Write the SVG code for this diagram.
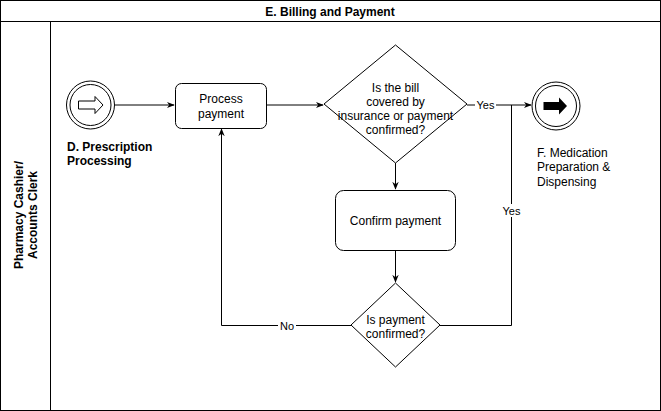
<svg xmlns="http://www.w3.org/2000/svg" width="661" height="411" viewBox="0 0 661 411">
<style>
.t{font-family:"Liberation Sans",Arial,sans-serif;font-size:12px;fill:#000}
.b{font-weight:bold}
.s{fill:#fff;stroke:#000;stroke-width:1}
.c{fill:none;stroke:#000;stroke-width:1}
.lbl{font-family:"Liberation Sans",Arial,sans-serif;font-size:11px;fill:#000}
</style>
<defs>
<marker id="ah" viewBox="0 0 10 10" refX="9" refY="5" markerWidth="8" markerHeight="8" markerUnits="userSpaceOnUse" orient="auto">
<path d="M0,1 L10,5 L0,9 L3,5 Z" fill="#000"/>
</marker>
</defs>
<rect x="0" y="0" width="660" height="410" fill="#fff"/>
<g id="pool">
<rect x="0.5" y="0.5" width="660" height="410" class="c"/>
<line x1="0.5" y1="21.5" x2="660.5" y2="21.5" class="c"/>
<line x1="50.5" y1="21.5" x2="50.5" y2="410.5" class="c"/>
<text class="t b" x="330" y="16" text-anchor="middle">E. Billing and Payment</text>
<text class="t b" transform="translate(26,215) rotate(-90)" text-anchor="middle"><tspan x="0" y="-3">Pharmacy Cashier/</tspan><tspan x="0" y="11">Accounts Clerk</tspan></text>
</g>
<g id="connectors">
<line x1="115" y1="105" x2="174" y2="105" class="c" marker-end="url(#ah)"/>
<line x1="266" y1="105" x2="323" y2="105" class="c" marker-end="url(#ah)"/>
<line x1="467" y1="105" x2="531" y2="105" class="c" marker-end="url(#ah)"/>
<rect x="475" y="98" width="21" height="13" fill="#fff"/>
<text class="lbl" x="485.5" y="109" text-anchor="middle">Yes</text>
<line x1="395.5" y1="163" x2="395.5" y2="189" class="c" marker-end="url(#ah)"/>
<line x1="395.5" y1="251" x2="395.5" y2="282" class="c" marker-end="url(#ah)"/>
<polyline points="440,325.5 511.5,325.5 511.5,105" class="c"/>
<rect x="501" y="204" width="21" height="13" fill="#fff"/>
<text class="lbl" x="511.5" y="215" text-anchor="middle">Yes</text>
<polyline points="351,325.5 221.5,325.5 221.5,129" class="c" marker-end="url(#ah)"/>
<rect x="278" y="319" width="18" height="13" fill="#fff"/>
<text class="lbl" x="287" y="330" text-anchor="middle">No</text>
</g>
<g id="start">
<circle cx="90.5" cy="105" r="24" class="s"/>
<circle cx="90.5" cy="105" r="20.5" class="c"/>
<path d="M78.5,101 L95,101 L95,96.5 L103,105 L95,113.5 L95,109 L78.5,109 Z" class="s"/>
<text class="t b" x="67" y="151">D. Prescription</text>
<text class="t b" x="67" y="165">Processing</text>
</g>
<g id="process">
<rect x="175.5" y="83.5" width="91" height="45" rx="6" class="s"/>
<text class="t" x="221" y="103" text-anchor="middle">Process</text>
<text class="t" x="221" y="118" text-anchor="middle">payment</text>
</g>
<g id="decision1">
<path d="M395.5,45 L467,104 L395.5,163 L324,104 Z" class="s" stroke-linejoin="round"/>
<text class="t" x="395.5" y="92" text-anchor="middle">Is the bill</text>
<text class="t" x="395.5" y="106" text-anchor="middle">covered by</text>
<text class="t" x="395.5" y="120" text-anchor="middle">insurance or payment</text>
<text class="t" x="395.5" y="134" text-anchor="middle">confirmed?</text>
</g>
<g id="confirm">
<rect x="335.5" y="190.5" width="120" height="60" rx="8" class="s"/>
<text class="t" x="395.5" y="225" text-anchor="middle">Confirm payment</text>
</g>
<g id="decision2">
<path d="M395.5,283 L440,325 L395.5,367 L351,325 Z" class="s" stroke-linejoin="round"/>
<text class="t" x="395.5" y="324" text-anchor="middle">Is payment</text>
<text class="t" x="395.5" y="338" text-anchor="middle">confirmed?</text>
</g>
<g id="end">
<circle cx="556" cy="106" r="24" class="s"/>
<circle cx="556" cy="106" r="20.5" class="c"/>
<path d="M543.5,102 L559,102 L559,97.5 L567,106 L559,114.5 L559,110 L543.5,110 Z" fill="#000"/>
<text class="t" x="537" y="157">F. Medication</text>
<text class="t" x="537" y="171">Preparation &amp;</text>
<text class="t" x="537" y="186">Dispensing</text>
</g>
</svg>
